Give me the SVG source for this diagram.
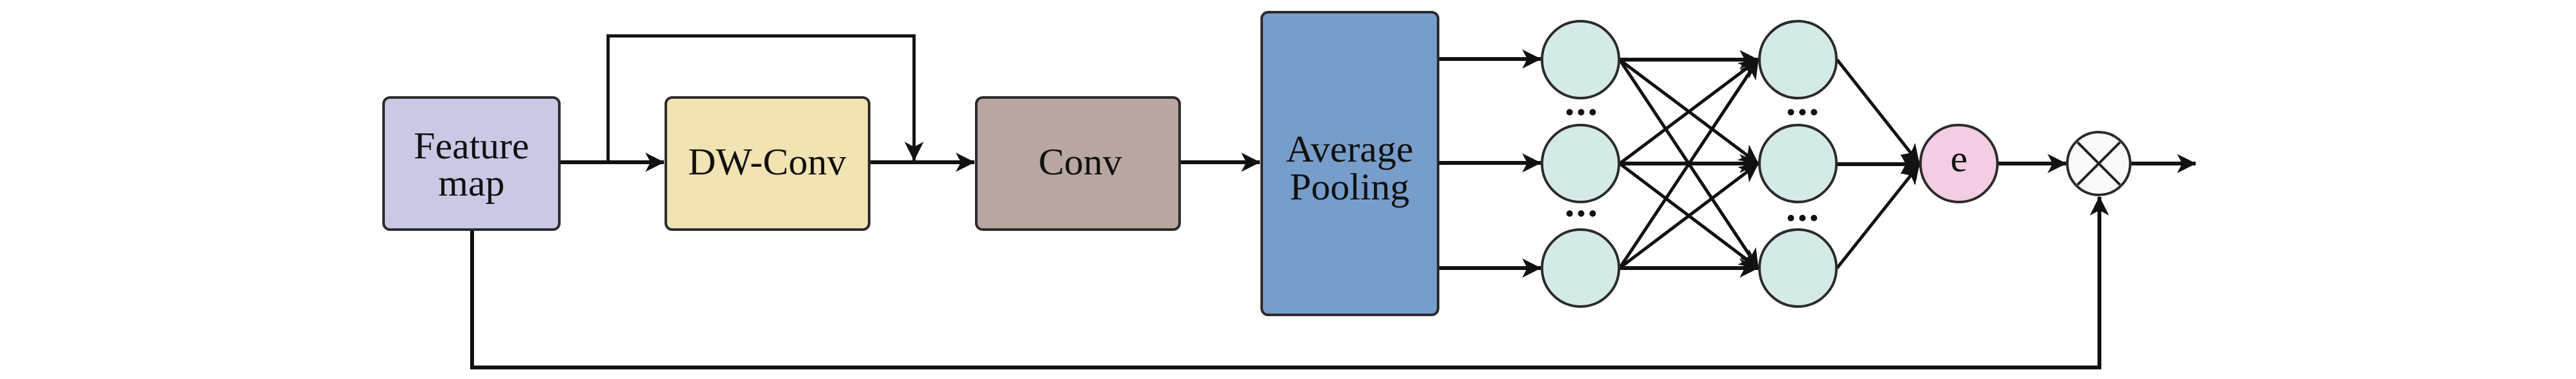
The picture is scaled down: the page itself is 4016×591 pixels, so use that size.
<svg xmlns="http://www.w3.org/2000/svg" width="4016" height="591" viewBox="0 0 4016 591">
<style>
.box{stroke:#2b2b2b;stroke-width:4}
.node{stroke:#2b2b2b;stroke-width:4}
.lbl{font-family:"Liberation Serif","DejaVu Serif",serif;font-size:60px;fill:#111;text-anchor:middle}
.c{fill:none;stroke:#111;stroke-width:6}
.t{fill:none;stroke:#111;stroke-width:5}
.dot{fill:#111}
</style>
<defs>
<marker id="ah" viewBox="0 0 30 30" refX="29" refY="15" markerWidth="30" markerHeight="30" markerUnits="userSpaceOnUse" orient="auto">
<path d="M0,0 L30,15 L0,30 L8,15 Z" fill="#111"/>
</marker>
</defs>
<rect width="4016" height="591" fill="#fff"/>
<g id="connectors">
<line class="c" x1="873" y1="253" x2="1035" y2="253" marker-end="url(#ah)"/>
<path class="t" d="M948,253 V56 H1425 V250" marker-end="url(#ah)"/>
<line class="c" x1="1356" y1="253" x2="1519" y2="253" marker-end="url(#ah)"/>
<line class="c" x1="1840" y1="253" x2="1964" y2="253" marker-end="url(#ah)"/>
<line class="c" x1="2243" y1="92" x2="2402" y2="92" marker-end="url(#ah)"/>
<line class="c" x1="2243" y1="254" x2="2402" y2="254" marker-end="url(#ah)"/>
<line class="c" x1="2243" y1="418" x2="2402" y2="418" marker-end="url(#ah)"/>
<line class="c" x1="2525" y1="93" x2="2741" y2="93" marker-end="url(#ah)"/>
<line class="t" x1="2525" y1="93" x2="2741" y2="255" marker-end="url(#ah)"/>
<line class="t" x1="2525" y1="93" x2="2741" y2="418" marker-end="url(#ah)"/>
<line class="t" x1="2525" y1="255" x2="2741" y2="93" marker-end="url(#ah)"/>
<line class="c" x1="2525" y1="255" x2="2741" y2="255" marker-end="url(#ah)"/>
<line class="t" x1="2525" y1="255" x2="2741" y2="418" marker-end="url(#ah)"/>
<line class="t" x1="2525" y1="418" x2="2741" y2="93" marker-end="url(#ah)"/>
<line class="t" x1="2525" y1="418" x2="2741" y2="255" marker-end="url(#ah)"/>
<line class="c" x1="2525" y1="418" x2="2741" y2="418" marker-end="url(#ah)"/>
<line class="t" x1="2864" y1="93" x2="2992" y2="255" marker-end="url(#ah)"/>
<line class="c" x1="2864" y1="256" x2="2992" y2="256" marker-end="url(#ah)"/>
<line class="t" x1="2864" y1="418" x2="2992" y2="257" marker-end="url(#ah)"/>
<line class="c" x1="3115" y1="255" x2="3221" y2="255" marker-end="url(#ah)"/>
<line class="c" x1="3323" y1="255" x2="3423" y2="255" marker-end="url(#ah)"/>
<path class="c" d="M736,360 V573 H3273 V307" marker-end="url(#ah)"/>
</g>
<g id="feature-map">
<rect class="box" x="598" y="152" width="274" height="206" rx="10" fill="#c9c8e5"/>
<text class="lbl" x="735" y="247">Feature</text>
<text class="lbl" x="735" y="305">map</text>
</g>
<g id="dw-conv">
<rect class="box" x="1038" y="152" width="317" height="206" rx="10" fill="#f1e3b2"/>
<text class="lbl" x="1196" y="272">DW-Conv</text>
</g>
<g id="conv">
<rect class="box" x="1522" y="152" width="317" height="206" rx="10" fill="#b8a6a0"/>
<text class="lbl" x="1684" y="272">Conv</text>
</g>
<g id="average-pooling">
<rect class="box" x="1967" y="19" width="275" height="472" rx="10" fill="#779dca"/>
<text class="lbl" x="2104" y="252">Average</text>
<text class="lbl" x="2104" y="311">Pooling</text>
</g>
<g id="fc1-1"><circle class="node" cx="2464" cy="93" r="60" fill="#d4eae7"/></g>
<g id="fc1-2"><circle class="node" cx="2464" cy="255" r="60" fill="#d4eae7"/></g>
<g id="fc1-3"><circle class="node" cx="2464" cy="418" r="60" fill="#d4eae7"/></g>
<g id="fc2-1"><circle class="node" cx="2803" cy="93" r="60" fill="#d4eae7"/></g>
<g id="fc2-2"><circle class="node" cx="2803" cy="255" r="60" fill="#d4eae7"/></g>
<g id="fc2-3"><circle class="node" cx="2803" cy="418" r="60" fill="#d4eae7"/></g>
<g id="dots">
<circle class="dot" cx="2447" cy="175" r="5"/><circle class="dot" cx="2465" cy="175" r="5"/><circle class="dot" cx="2483" cy="175" r="5"/>
<circle class="dot" cx="2447" cy="333" r="5"/><circle class="dot" cx="2465" cy="333" r="5"/><circle class="dot" cx="2483" cy="333" r="5"/>
<circle class="dot" cx="2792" cy="175" r="5"/><circle class="dot" cx="2810" cy="175" r="5"/><circle class="dot" cx="2828" cy="175" r="5"/>
<circle class="dot" cx="2792" cy="340" r="5"/><circle class="dot" cx="2810" cy="340" r="5"/><circle class="dot" cx="2828" cy="340" r="5"/>
</g>
<g id="e-node">
<circle class="node" cx="3054" cy="255" r="60" fill="#f3cde3"/>
<text class="lbl" x="3054" y="267">e</text>
</g>
<g id="multiply">
<circle class="node" cx="3272" cy="255" r="49" fill="#fafafa"/>
<path d="M3239,222 L3305,288 M3305,222 L3239,288" stroke="#222" stroke-width="4"/>
</g>
</svg>
